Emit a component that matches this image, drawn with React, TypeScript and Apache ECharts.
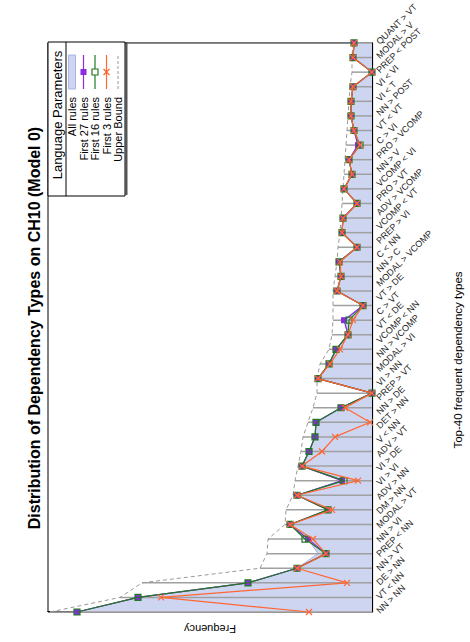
import React, { useEffect, useRef } from "react";
import * as echarts from "echarts";

// Rank of each plotted dependency type (40 points drawn)
const ranks = Array.from({ length: 40 }, (_, i) => String(i + 1));

// Tick labels as printed under the axis (41 labels in the figure)
const tickLabels = [
  "NN > NN", "VT < NN", "DE > NN", "NN > VT", "PREP < NN", "NN > VI", "MODAL > VT", "DM > NN",
  "ADV > NN", "VI > VI", "VI > DE", "ADV > VT", "V < NN", "DET > NN", "NN > DE", "PREP > VT",
  "VI > NN", "MODAL > VI", "NN > VCOMP", "VCOMP < NN", "VT < DE", "C > VT", "VT > DE", "MODAL > VCOMP",
  "NN > C", "C < NN", "PREP > VI", "VCOMP < VT", "ADV > VCOMP", "PRO > VT", "VCOMP < VI", "NN > V",
  "PRO > VCOMP", "C > VI", "VT < VT", "NN > POST", "VI < T", "VI < VI", "PREP < POST", "MODAL > V",
  "QUANT > VT",
];

const allRules = [
  29.5, 23.4, 12.4, 7.5, 5.4, 6.4, 8.2, 4.4, 7.5, 3.0, 7.0, 6.3, 5.7, 5.6, 3.1, 0, 5.4, 4.3, 3.6, 2.4,
  2.7, 0.9, 3.5, 3.1, 3.3, 1.5, 3.0, 2.9, 1.5, 2.8, 2.0, 2.3, 1.4, 1.8, 2.1, 2.1, 1.9, 0, 1.9, 1.8,
];
const first27 = [
  29.5, 23.4, 12.4, 7.5, 4.6, 6.4, 8.2, 4.4, 7.5, 3.0, 7.0, 6.3, 5.7, 5.6, 3.1, 0, 5.4, 4.3, 3.6, 2.4,
  2.8, 0.9, 3.5, 3.1, 3.3, 1.5, 3.0, 2.9, 1.5, 2.8, 2.0, 2.3, 1.4, 1.8, 2.1, 2.1, 1.9, 0, 1.9, 1.8,
];
const first16 = [
  29.5, 23.4, 12.4, 7.5, 4.6, 6.7, 8.2, 4.4, 7.5, 2.8, 7.0, 6.3, 5.7, 5.6, 3.1, 0, 5.4, 4.3, 3.6, 2.4,
  2.3, 0.9, 3.5, 3.1, 3.3, 1.5, 3.0, 2.9, 1.5, 2.8, 2.0, 2.3, 1.2, 1.8, 2.1, 2.1, 1.9, 0, 1.9, 1.8,
];
const first3 = [
  6.3, 21.1, 2.5, 7.5, 4.6, 5.9, 8.2, 4.0, 7.5, 1.4, 7.0, 5.0, 3.7, 0.2, 2.7, 0, 5.4, 4.2, 3.2, 2.4,
  1.9, 0.9, 3.5, 3.1, 3.2, 1.5, 3.0, 2.9, 1.5, 2.8, 2.0, 2.3, 1.2, 1.8, 2.1, 2.1, 1.9, 0, 1.9, 1.8,
];
const upperBound = [
  32.2, 25.2, 23.0, 11.2, 10.5, 10.4, 8.7, 8.6, 7.9, 7.7, 7.4, 7.1, 6.9, 6.4, 5.9, 5.5, 5.5, 5.2, 4.3, 4.0,
  3.9, 3.9, 3.9, 3.7, 3.5, 3.4, 3.2, 3.1, 3.0, 2.9, 2.8, 2.7, 2.6, 2.5, 2.4, 2.3, 2.2, 2.0, 2.0, 1.9,
];
const legendNames = ["All rules", "First 27 rules", "First 16 rules", "First 3 rules", "Upper Bound"];

const FONT = "'Liberation Sans', Arial, Helvetica, sans-serif";
const C_AREA = "#cdd5f0";
const C_AREA_LINE = "#a9b4e4";
const C_PURPLE = "#8a2be2";
const C_GREEN = "#217a21";
const C_ORANGE = "#ff6633";
const C_UPPER = "#999999";
const C_STEM = "#a0a0a0";
const CROSS = "path://M0 0L10 10M10 0L0 10";

export default function App() {
  const ref = useRef<HTMLDivElement>(null);
  useEffect(() => {
    if (!ref.current) return;
    const chart = echarts.init(ref.current, undefined, { renderer: "svg" });
    const lx0 = 553, lx1 = 587, lxm = 570, textX = 545;
    const ys = [72, 83.5, 95, 106.5, 118];
    const legendGraphics: any[] = [
      { type: "line", shape: { x1: 447, y1: 126.5, x2: 600, y2: 126.5 }, style: { stroke: "#555", lineWidth: 2 }, z: 100 },
      { type: "rect", shape: { x: 446, y: 48, width: 154, height: 77 }, style: { fill: "#fff", stroke: "#000", lineWidth: 1 }, z: 101 },
      { type: "line", shape: { x1: 446, y1: 66, x2: 600, y2: 66 }, style: { stroke: "#000", lineWidth: 1 }, z: 102 },
      { type: "text", x: 527, y: 57.5, style: { text: "Language Parameters", font: `13px ${FONT}`, fill: "#000", textAlign: "center", textVerticalAlign: "middle" }, z: 102 },
    ];
    legendNames.forEach((n, i) => {
      legendGraphics.push({ type: "text", x: textX, y: ys[i], style: { text: n, font: `11px ${FONT}`, fill: "#000", textAlign: "right", textVerticalAlign: "middle" }, z: 102 });
    });
    legendGraphics.push(
      { type: "rect", shape: { x: lx0, y: ys[0] - 3.5, width: lx1 - lx0, height: 7 }, style: { fill: C_AREA, stroke: C_AREA_LINE, lineWidth: 1 }, z: 102 },
      { type: "line", shape: { x1: lx0, y1: ys[1], x2: lx1, y2: ys[1] }, style: { stroke: C_PURPLE, lineWidth: 1.2 }, z: 102 },
      { type: "rect", shape: { x: lxm - 3, y: ys[1] - 3, width: 6, height: 6 }, style: { fill: C_PURPLE }, z: 103 },
      { type: "line", shape: { x1: lx0, y1: ys[2], x2: lx1, y2: ys[2] }, style: { stroke: C_GREEN, lineWidth: 1.2 }, z: 102 },
      { type: "rect", shape: { x: lxm - 3, y: ys[2] - 3, width: 6, height: 6 }, style: { fill: "#fff", stroke: C_GREEN, lineWidth: 1.2 }, z: 103 },
      { type: "line", shape: { x1: lx0, y1: ys[3], x2: lx1, y2: ys[3] }, style: { stroke: C_ORANGE, lineWidth: 1.2 }, z: 102 },
      { type: "line", shape: { x1: lxm - 3, y1: ys[3] - 3, x2: lxm + 3, y2: ys[3] + 3 }, style: { stroke: C_ORANGE, lineWidth: 1.2 }, z: 103 },
      { type: "line", shape: { x1: lxm - 3, y1: ys[3] + 3, x2: lxm + 3, y2: ys[3] - 3 }, style: { stroke: C_ORANGE, lineWidth: 1.2 }, z: 103 },
      { type: "line", shape: { x1: lx0, y1: ys[4], x2: lx1, y2: ys[4] }, style: { stroke: C_UPPER, lineWidth: 1, lineDash: [3, 2] }, z: 102 },
    );

    chart.setOption({
      animation: false,
      backgroundColor: "#fff",
      textStyle: { fontFamily: FONT },
      grid: { left: 18, right: 42, top: 48, bottom: 98, show: true, borderColor: "#000", borderWidth: 1, backgroundColor: "transparent" },
      xAxis: [
        {
          type: "category",
          data: ranks,
          boundaryGap: false,
          position: "bottom",
          axisLine: { show: true, lineStyle: { color: "#000", width: 1.2 } },
          axisTick: { show: false },
          axisLabel: { show: false },
          splitLine: { show: false },
        },
        {
          type: "category",
          data: tickLabels,
          boundaryGap: false,
          position: "bottom",
          axisLine: { show: false },
          axisTick: { show: false },
          axisLabel: { rotate: -45, fontSize: 9, color: "#222", margin: 6, interval: 0, fontFamily: FONT },
          splitLine: { show: false },
        },
      ],
      yAxis: {
        type: "value",
        min: 0,
        max: 32.4,
        axisLine: { show: true, lineStyle: { color: "#000", width: 1.2 } },
        axisTick: { show: false },
        axisLabel: { show: false },
        splitLine: { show: false },
        name: "Frequency",
        nameLocation: "middle",
        nameGap: 11,
        nameTextStyle: { fontSize: 11, color: "#000", fontFamily: FONT },
      },
      graphic: [
        { type: "text", x: 314, y: 34, style: { text: "Distribution of Dependency Types on CH10 (Model 0)", font: `bold 16px ${FONT}`, fill: "#000", textAlign: "center", textVerticalAlign: "middle" } },
        { type: "text", x: 282, y: 458, style: { text: "Top-40 frequent dependency types", font: `11.5px ${FONT}`, fill: "#000", textAlign: "center", textVerticalAlign: "middle" } },
        ...legendGraphics,
      ],
      series: [
        {
          name: "All rules", type: "line", data: allRules, symbol: "none", z: 1,
          lineStyle: { color: C_AREA_LINE, width: 1 }, areaStyle: { color: C_AREA, opacity: 1 },
        },
        {
          name: "stems", type: "bar", data: upperBound, barWidth: 1.5, z: 2, silent: true,
          itemStyle: { color: C_STEM },
        },
        {
          name: "Upper Bound", type: "line", data: upperBound, symbol: "none", z: 3,
          lineStyle: { color: C_UPPER, width: 1, type: [4, 3] },
        },
        {
          name: "First 27 rules", type: "line", data: first27, symbol: "rect", symbolSize: 6, z: 4,
          itemStyle: { color: C_PURPLE }, lineStyle: { color: C_PURPLE, width: 1.2 },
        },
        {
          name: "First 16 rules", type: "line", data: first16, symbol: "rect", symbolSize: 6, z: 5,
          itemStyle: { color: "rgba(0,0,0,0)", borderColor: C_GREEN, borderWidth: 1.2 }, lineStyle: { color: C_GREEN, width: 1.2 },
        },
        {
          name: "First 3 rules", type: "line", data: first3, symbol: CROSS, symbolSize: 6, z: 6,
          itemStyle: { color: "rgba(0,0,0,0)", borderColor: C_ORANGE, borderWidth: 1.2 }, lineStyle: { color: C_ORANGE, width: 1.2 },
        },
      ],
    });
    return () => chart.dispose();
  }, []);

  return (
    <div style={{ position: "fixed", left: 0, top: 0, width: 470, height: 642, overflow: "hidden", background: "#fff" }}>
      <div
        style={{
          position: "absolute", left: 0, top: 0, width: 642, height: 470,
          transformOrigin: "0 0", transform: "translateY(642px) rotate(-90deg)",
        }}
      >
        <div ref={ref} style={{ width: 642, height: 470 }} />
      </div>
    </div>
  );
}
